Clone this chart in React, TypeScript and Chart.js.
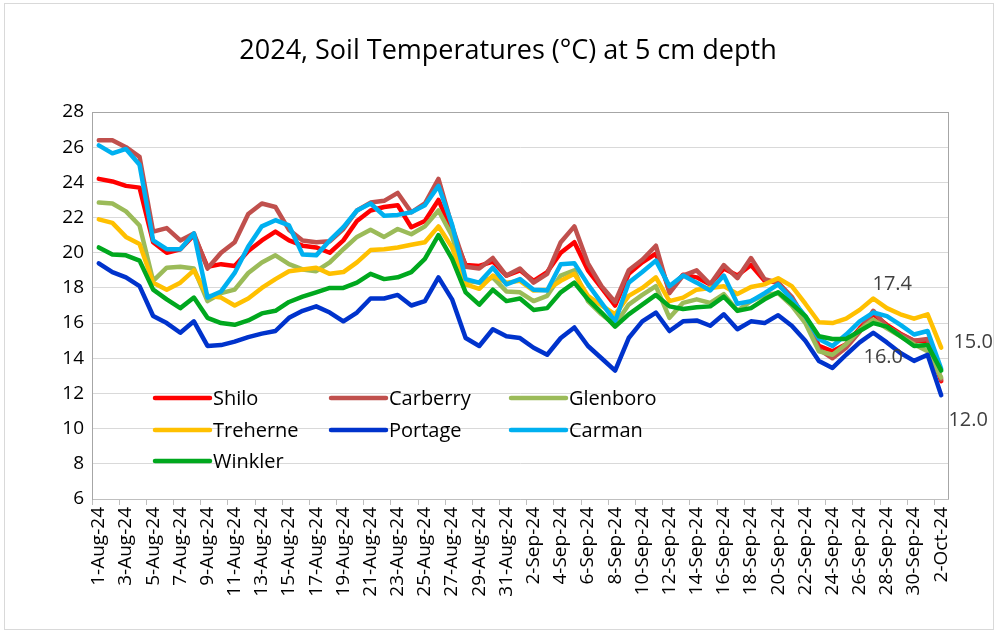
import React, { useEffect, useRef } from "react";
import { Chart, registerables } from "chart.js";

Chart.register(...registerables);

const FONT = "'Open Sans', 'DejaVu Sans', sans-serif";

const chartTitle = "2024, Soil Temperatures (°C) at 5 cm depth";

const days: string[] = [
  "1-Aug-24", "2-Aug-24", "3-Aug-24", "4-Aug-24", "5-Aug-24", "6-Aug-24", "7-Aug-24", "8-Aug-24",
  "9-Aug-24", "10-Aug-24", "11-Aug-24", "12-Aug-24", "13-Aug-24", "14-Aug-24", "15-Aug-24", "16-Aug-24",
  "17-Aug-24", "18-Aug-24", "19-Aug-24", "20-Aug-24", "21-Aug-24", "22-Aug-24", "23-Aug-24", "24-Aug-24",
  "25-Aug-24", "26-Aug-24", "27-Aug-24", "28-Aug-24", "29-Aug-24", "30-Aug-24", "31-Aug-24",
  "1-Sep-24", "2-Sep-24", "3-Sep-24", "4-Sep-24", "5-Sep-24", "6-Sep-24", "7-Sep-24", "8-Sep-24",
  "9-Sep-24", "10-Sep-24", "11-Sep-24", "12-Sep-24", "13-Sep-24", "14-Sep-24", "15-Sep-24", "16-Sep-24",
  "17-Sep-24", "18-Sep-24", "19-Sep-24", "20-Sep-24", "21-Sep-24", "22-Sep-24", "23-Sep-24", "24-Sep-24",
  "25-Sep-24", "26-Sep-24", "27-Sep-24", "28-Sep-24", "29-Sep-24", "30-Sep-24",
  "1-Oct-24", "2-Oct-24",
];

const shilo: number[] = [
  24.2, 24.05, 23.8, 23.7, 20.6, 20.0, 20.2, 21.0, 19.2, 19.35, 19.25, 20.1, 20.7, 21.2, 20.7, 20.4,
  20.3, 20.0, 20.7, 21.8, 22.4, 22.6, 22.7, 21.45, 21.8, 23.0, 21.2, 19.3, 19.25, 19.5, 18.7,
  19.0, 18.4, 18.9, 20.0, 20.6, 19.0, 18.0, 17.0, 18.8, 19.45, 19.95, 17.9, 18.75, 18.6, 18.2, 19.1,
  18.7, 19.3, 18.4, 18.3, 17.4, 16.3, 14.7, 14.4, 14.8, 15.7, 16.5, 15.9, 15.4, 15.0,
  15.0, 12.7,
];
const carberry: number[] = [
  26.4, 26.4, 26.0, 25.45, 21.2, 21.4, 20.7, 21.1, 19.1, 20.0, 20.6, 22.2, 22.8, 22.6, 21.3, 20.7,
  20.6, 20.65, 21.35, 22.4, 22.85, 22.95, 23.4, 22.3, 22.8, 24.2, 21.5, 19.2, 19.1, 19.7, 18.7,
  19.1, 18.3, 18.8, 20.6, 21.5, 19.4, 18.1, 17.2, 19.0, 19.6, 20.4, 17.7, 18.7, 19.0, 18.2, 19.3,
  18.55, 19.7, 18.5, 18.3, 17.5, 16.2, 14.5, 14.0, 14.6, 15.5, 16.7, 15.8, 15.35, 15.0,
  15.1, 12.8,
];
const glenboro: number[] = [
  22.85, 22.8, 22.35, 21.55, 18.4, 19.15, 19.2, 19.1, 17.25, 17.7, 17.9, 18.85, 19.45, 19.85, 19.35, 19.05,
  18.95, 19.45, 20.2, 20.9, 21.3, 20.9, 21.35, 21.05, 21.5, 22.4, 20.95, 18.4, 18.3, 18.6, 17.8,
  17.75, 17.25, 17.55, 18.7, 19.0, 17.25, 16.5, 15.9, 17.05, 17.6, 18.1, 16.3, 17.15, 17.35, 17.15, 17.65,
  16.7, 17.25, 17.6, 17.7, 17.0, 16.0, 14.4, 14.2, 14.8, 15.6, 16.2, 15.7, 15.25, 14.8,
  14.4, 12.9,
];
const treherne: number[] = [
  21.9, 21.7, 20.9, 20.5, 18.3, 17.9, 18.3, 19.0, 17.55, 17.45, 17.0, 17.4, 18.0, 18.5, 18.95, 19.05,
  19.15, 18.8, 18.9, 19.45, 20.15, 20.2, 20.3, 20.45, 20.6, 21.5, 20.3, 18.2, 17.95, 18.7, 18.3,
  18.4, 17.85, 17.9, 18.4, 18.8, 17.55, 17.0, 16.5, 17.55, 18.0, 18.6, 17.25, 17.45, 17.9, 18.0, 18.1,
  17.65, 18.05, 18.2, 18.55, 18.1, 17.1, 16.05, 16.0, 16.25, 16.75, 17.4, 16.85, 16.5, 16.25,
  16.5, 14.6,
];
const portage: number[] = [
  19.4, 18.9, 18.6, 18.1, 16.4, 16.0, 15.45, 16.1, 14.7, 14.75, 14.95, 15.2, 15.4, 15.55, 16.3, 16.7,
  16.95, 16.6, 16.1, 16.6, 17.4, 17.4, 17.6, 17.0, 17.25, 18.6, 17.35, 15.15, 14.7, 15.65, 15.25,
  15.15, 14.6, 14.2, 15.15, 15.75, 14.7, 14.0, 13.3, 15.15, 16.1, 16.6, 15.55, 16.1, 16.15, 15.85, 16.5,
  15.65, 16.1, 16.0, 16.45, 15.85, 15.0, 13.85, 13.45, 14.2, 14.9, 15.45, 14.9, 14.3, 13.85,
  14.2, 11.9,
];
const carman: number[] = [
  26.1, 25.65, 25.9, 25.0, 20.7, 20.2, 20.2, 21.1, 17.45, 17.8, 18.85, 20.35, 21.5, 21.85, 21.55, 19.9,
  19.85, 20.7, 21.45, 22.4, 22.8, 22.1, 22.15, 22.3, 22.7, 23.8, 21.6, 18.5, 18.3, 19.15, 18.2,
  18.5, 17.9, 17.85, 19.35, 19.4, 18.2, 17.15, 16.1, 18.3, 18.9, 19.55, 18.1, 18.7, 18.3, 17.85, 18.7,
  17.1, 17.25, 17.7, 18.2, 17.35, 16.4, 15.1, 14.7, 15.35, 16.1, 16.6, 16.4, 15.9, 15.35,
  15.55, 13.4,
];
const winkler: number[] = [
  20.3, 19.9, 19.85, 19.55, 17.9, 17.35, 16.85, 17.45, 16.3, 16.0, 15.9, 16.15, 16.55, 16.7, 17.2, 17.5,
  17.75, 18.0, 18.0, 18.3, 18.8, 18.5, 18.6, 18.9, 19.65, 21.0, 19.65, 17.75, 17.05, 17.9, 17.25,
  17.4, 16.75, 16.85, 17.75, 18.3, 17.35, 16.6, 15.8, 16.5, 17.05, 17.6, 16.95, 16.8, 16.9, 16.95, 17.5,
  16.7, 16.85, 17.35, 17.75, 17.1, 16.4, 15.25, 15.1, 15.1, 15.55, 16.0, 15.8, 15.25, 14.7,
  14.75, 13.3,
];

const seriesNames: string[] = ["Shilo", "Carberry", "Glenboro", "Treherne", "Portage", "Carman", "Winkler"];
const seriesValues: number[][] = [shilo, carberry, glenboro, treherne, portage, carman, winkler];
const seriesColors: string[] = ["#FF0000", "#C0504D", "#9BBB59", "#FFC000", "#0033CC", "#00B0F0", "#00A81E"];

const yMin = 6;
const yMax = 28;
const yStep = 2;

// data labels shown on the chart (series, day, text)
const labelSeries: string[] = ["Treherne", "Winkler", "Treherne", "Portage"];
const labelDays: string[] = ["27-Sep-24", "27-Sep-24", "2-Oct-24", "2-Oct-24"];
const labelTexts: string[] = ["17.4", "16.0", "15.0", "12.0"];

const labelOffsets = [
  { dx: 19, dy: -14 },
  { dx: 10, dy: 34 },
  { dx: 32, dy: -5 },
  { dx: 27, dy: 25 },
];

const framePlugin = {
  id: "frame",
  beforeDraw(chart: any) {
    const { ctx, width, height } = chart;
    ctx.save();
    ctx.fillStyle = "#ffffff";
    ctx.fillRect(0, 0, width, height);
    ctx.strokeStyle = "#d9d9d9";
    ctx.lineWidth = 1;
    ctx.strokeRect(4.5, 3.5, width - 9, height - 7);
    ctx.fillStyle = "#000000";
    ctx.font = `27px ${FONT}`;
    ctx.textAlign = "center";
    ctx.textBaseline = "middle";
    ctx.fillText(chartTitle, 508, 51);
    ctx.restore();
  },
  beforeDatasetsDraw(chart: any) {
    const { ctx, chartArea } = chart;
    ctx.save();
    ctx.strokeStyle = "#a6a6a6";
    ctx.lineWidth = 1;
    ctx.beginPath();
    ctx.moveTo(chartArea.left, Math.round(chartArea.top) + 0.5);
    ctx.lineTo(chartArea.right, Math.round(chartArea.top) + 0.5);
    ctx.moveTo(Math.round(chartArea.right) + 0.5, chartArea.top);
    ctx.lineTo(Math.round(chartArea.right) + 0.5, chartArea.bottom);
    ctx.stroke();
    ctx.restore();
  },
};

const legendPlugin = {
  id: "inlineLegend",
  afterDatasetsDraw(chart: any) {
    const { ctx, chartArea } = chart;
    const cols = [63, 239, 419];
    const rows = [286, 318, 349];
    chart.data.datasets.forEach((ds: any, i: number) => {
      const x = chartArea.left + cols[i % 3];
      const y = chartArea.top + rows[Math.floor(i / 3)];
      ctx.save();
      ctx.strokeStyle = ds.borderColor;
      ctx.lineWidth = 4.5;
      ctx.lineCap = "round";
      ctx.beginPath();
      ctx.moveTo(x, y);
      ctx.lineTo(x + 55, y);
      ctx.stroke();
      ctx.fillStyle = "#000000";
      ctx.font = `20px ${FONT}`;
      ctx.textAlign = "left";
      ctx.textBaseline = "middle";
      ctx.fillText(ds.label, x + 58, y + 1);
      ctx.restore();
    });
  },
};

const dataLabelPlugin = {
  id: "dataLabels",
  afterDatasetsDraw(chart: any) {
    const { ctx } = chart;
    const xs = chart.scales.x;
    const ys = chart.scales.y;
    ctx.save();
    ctx.fillStyle = "#404040";
    ctx.font = `20px ${FONT}`;
    ctx.textAlign = "center";
    ctx.textBaseline = "middle";
    labelTexts.forEach((text, k) => {
      const si = seriesNames.indexOf(labelSeries[k]);
      const di = days.indexOf(labelDays[k]);
      const px = xs.getPixelForValue(di);
      const py = ys.getPixelForValue(seriesValues[si][di]);
      ctx.fillText(text, px + labelOffsets[k].dx, py + labelOffsets[k].dy);
    });
    ctx.restore();
  },
};

export default function App() {
  const canvasRef = useRef<HTMLCanvasElement | null>(null);

  useEffect(() => {
    const canvas = canvasRef.current;
    if (!canvas) return;
    const chart = new Chart(canvas, {
      type: "line",
      data: {
        labels: days,
        datasets: seriesNames.map((name, i) => ({
          label: name,
          data: seriesValues[i],
          borderColor: seriesColors[i],
          backgroundColor: seriesColors[i],
          borderWidth: 4.5,
          borderJoinStyle: "round" as const,
          borderCapStyle: "round" as const,
          pointRadius: 0,
          pointHoverRadius: 0,
          tension: 0,
          fill: false,
          order: seriesNames.length - i,
        })),
      },
      options: {
        animation: false,
        responsive: false,
        events: [],
        layout: { padding: { left: 0, top: 112, right: 50, bottom: 0 } },
        plugins: {
          legend: { display: false },
          title: { display: false },
          tooltip: { enabled: false },
        },
        scales: {
          x: {
            type: "category",
            offset: true,
            grid: {
              offset: true,
              drawOnChartArea: false,
              drawTicks: true,
              tickLength: 6,
              tickColor: (c: any) => (c.index % 2 === 0 || c.index === days.length ? "#bfbfbf" : "rgba(0,0,0,0)"),
              tickWidth: 1,
            },
            border: { display: true, color: "#bfbfbf", width: 1 },
            ticks: {
              autoSkip: false,
              maxRotation: 90,
              minRotation: 90,
              padding: 2,
              color: "#000000",
              font: { family: FONT, size: 19 },
              callback: (_v: any, idx: number) => (idx % 2 === 0 ? days[idx] : ""),
            },
            afterFit: (scale: any) => {
              scale.height = 134;
            },
          },
          y: {
            min: yMin,
            max: yMax,
            grid: { color: "#d9d9d9", lineWidth: 1, drawTicks: false },
            border: { display: true, color: "#a6a6a6", width: 1 },
            ticks: {
              stepSize: yStep,
              padding: 8,
              color: "#000000",
              font: { family: FONT, size: 19 },
            },
            afterFit: (scale: any) => {
              scale.width = 92;
            },
          },
        },
      },
      plugins: [framePlugin, legendPlugin, dataLabelPlugin],
    });
    return () => chart.destroy();
  }, []);

  return (
    <div style={{ position: "fixed", left: 0, top: 0, width: 998, height: 633 }}>
      <canvas ref={canvasRef} width={998} height={633} style={{ display: "block", width: 998, height: 633 }} />
    </div>
  );
}
